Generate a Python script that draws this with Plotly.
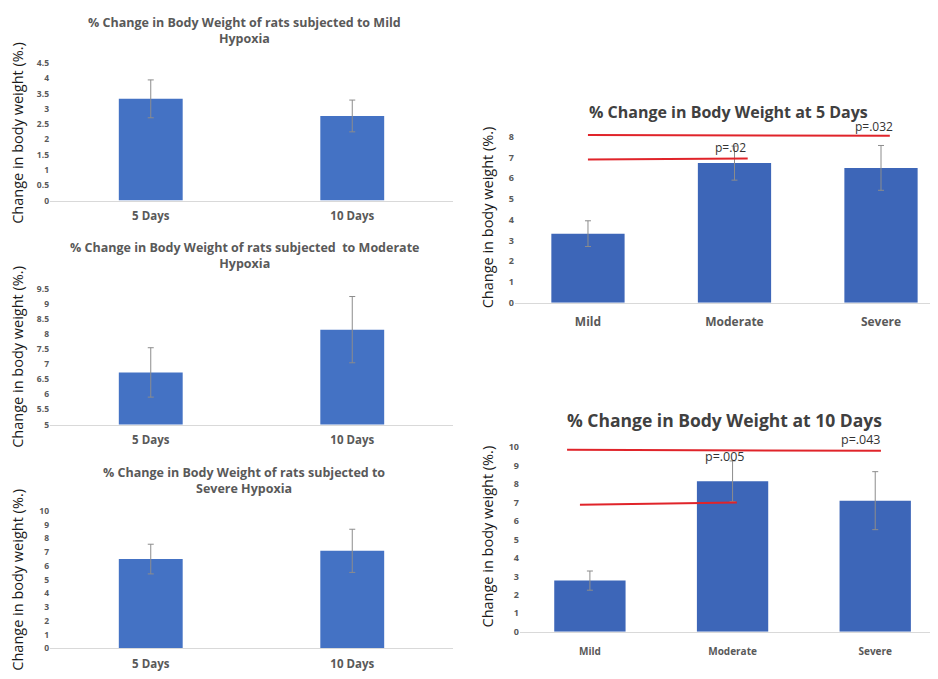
import plotly.graph_objects as go

# ---------------- data ----------------
days = ["5 Days", "10 Days"]
mild_mean = [3.33, 2.77]
mild_err = [0.62, 0.52]
moderate_mean = [6.73, 8.15]
moderate_err = [0.82, 1.10]
severe_mean = [6.50, 7.10]
severe_err = [1.08, 1.57]

groups = ["Mild", "Moderate", "Severe"]
day5_mean = [3.33, 6.73, 6.50]
day5_err = [0.62, 0.82, 1.08]
day10_mean = [2.77, 8.15, 7.10]
day10_err = [0.52, 1.10, 1.57]

left_titles = [
    "% Change in Body Weight of rats subjected to Mild<br>Hypoxia",
    "% Change in Body Weight of rats subjected  to Moderate<br>Hypoxia",
    "% Change in Body Weight of rats subjected to<br>Severe Hypoxia",
]
right_titles = ["% Change in Body Weight at 5 Days", "% Change in Body Weight at 10 Days"]
ytitle = "Change in body weight (%.)"

# page body has an 8px default margin: shrink the figure and offset coordinates
OFF = 8
W, H = 938 - OFF, 679 - OFF
FONT = "Open Sans"
BLUE = "#4472C4"
BLUE_R = "#3D66B8"
ERR = "#8C8C8C"
GREY = "#595959"

def px(x):
    return (x - OFF) / W

def py(y):
    return 1 - (y - OFF) / H

fig = go.Figure()

def add_bars(idx, cats, means, errs, color, width):
    fig.add_trace(go.Bar(
        x=cats, y=means, width=width,
        marker=dict(color=color, line=dict(width=0)),
        error_y=dict(type="data", array=errs, color=ERR, thickness=1, width=3),
        xaxis=f"x{idx}", yaxis=f"y{idx}", showlegend=False,
    ))

add_bars(1, days, mild_mean, mild_err, BLUE, 0.317)
add_bars(2, days, moderate_mean, moderate_err, BLUE, 0.317)
add_bars(3, days, severe_mean, severe_err, BLUE, 0.317)
add_bars(4, groups, day5_mean, day5_err, BLUE_R, 0.5)
add_bars(5, groups, day10_mean, day10_err, BLUE_R, 0.5)

layout = dict(
    width=W, height=H, margin=dict(l=0, r=0, t=0, b=0),
    paper_bgcolor="white", plot_bgcolor="white",
    font=dict(family=FONT, color=GREY),
)

def xax(dom, rng, size, standoff):
    return dict(domain=[px(dom[0]), min(1.0, px(dom[1]))], range=rng, type="category",
                showline=True, linecolor="#D9D9D9", linewidth=1, showgrid=False,
                ticks="", zeroline=False, ticklabelstandoff=standoff,
                tickfont=dict(family=FONT, size=size, color=GREY, weight="bold"))

def yax(dom, rng, dtick, size, anchor):
    return dict(domain=[py(dom[0]), py(dom[1])], range=rng, dtick=dtick,
                showline=False, showgrid=False, zeroline=False, ticks="",
                anchor=anchor,
                tickfont=dict(family=FONT, size=size, color=GREY, weight="bold"))

# left column
layout["xaxis"] = dict(xax((50, 453), [-0.5, 1.5], 11.5, 5), anchor="y")
layout["yaxis"] = yax((198, 58), [0, 4.5], 0.5, 8.5, "x")
layout["xaxis2"] = dict(xax((50, 453), [-0.5, 1.5], 11.5, 5), anchor="y2")
layout["yaxis2"] = yax((426, 288), [5, 9.5], 0.5, 8.5, "x2")
layout["xaxis3"] = dict(xax((50, 453), [-0.5, 1.5], 11.5, 5), anchor="y3")
layout["yaxis3"] = yax((654, 514), [0, 10], 1, 8.5, "x3")
# right column
top4 = 302 - 8.3 * (302 - 133) / 8
layout["xaxis4"] = dict(xax((515, 938), [-0.498, 2.389], 12, 8), anchor="y4")
layout["yaxis4"] = yax((302, top4), [0, 8.3], 1, 9, "x4")
top5 = 637 - 10.25 * (637 - 449) / 10
layout["xaxis5"] = dict(xax((520, 938), [-0.49, 2.44], 10, 10), anchor="y5")
layout["yaxis5"] = yax((637, top5), [0, 10.25], 1, 9, "x5")

fig.update_layout(**layout)

ann = []
# left titles
for t, y in zip(left_titles, [25, 254, 483]):
    ann.append(dict(text=t, x=px(244), y=py(y), xref="paper", yref="paper",
                    showarrow=False, xanchor="center", yanchor="middle",
                    font=dict(family=FONT, size=12.5, color=GREY, weight="bold")))
# right titles
for t, y, x, s in zip(right_titles, [108, 421], [728, 724], [16, 17.5]):
    ann.append(dict(text=t, x=px(x), y=py(y), xref="paper", yref="paper",
                    showarrow=False, xanchor="center", yanchor="middle",
                    font=dict(family=FONT, size=s, color="#404040", weight="bold")))
# y titles
for x, y in [(18, 129), (18, 357), (18, 584), (487, 215), (487, 540)]:
    ann.append(dict(text=ytitle, x=px(x), y=py(y), xref="paper", yref="paper",
                    showarrow=False, textangle=-90, xanchor="center", yanchor="middle",
                    font=dict(family=FONT, size=14.5, color="#1a1a1a")))
# p-value labels
ann.append(dict(text="p=.02", x=0.97, y=6.98, xref="x4", yref="y4", showarrow=False,
                yanchor="bottom", font=dict(family=FONT, size=12, color="#333333")))
ann.append(dict(text="p=.032", x=1.95, y=8.0, xref="x4", yref="y4", showarrow=False,
                yanchor="bottom", font=dict(family=FONT, size=12, color="#333333")))
ann.append(dict(text="p=.005", x=0.95, y=8.9, xref="x5", yref="y5", showarrow=False,
                yanchor="bottom", font=dict(family=FONT, size=12.5, color="#333333")))
ann.append(dict(text="p=.043", x=1.9, y=9.85, xref="x5", yref="y5", showarrow=False,
                yanchor="bottom", font=dict(family=FONT, size=12.5, color="#333333")))
fig.update_layout(annotations=ann)

RED = "#E0242A"
shapes = [
    dict(type="line", x0=0, x1=2.06, y0=8.08, y1=8.05, xref="x4", yref="y4",
         line=dict(color=RED, width=2)),
    dict(type="line", x0=0, x1=1.09, y0=6.9, y1=6.95, xref="x4", yref="y4",
         line=dict(color=RED, width=2)),
    dict(type="line", x0=-0.16, x1=2.04, y0=9.86, y1=9.8, xref="x5", yref="y5",
         line=dict(color=RED, width=2)),
    dict(type="line", x0=-0.07, x1=1.03, y0=6.88, y1=7.0, xref="x5", yref="y5",
         line=dict(color=RED, width=2)),
]
fig.update_layout(shapes=shapes)

fig.write_html("out.html")
